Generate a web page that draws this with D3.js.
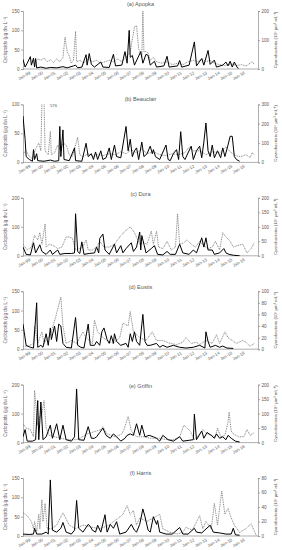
<!DOCTYPE html>
<html>
<head>
<meta charset="utf-8">
<script src="https://cdn.jsdelivr.net/npm/d3@7"></script>
<style>
  body { margin: 0; background: #fff; }
  text { font-family: "Liberation Sans", Arial, sans-serif; fill: #595959; }
</style>
</head>
<body>
<div id="chart"></div>
<script>
// x values are months since Jan 1999
const yearLabels = ["Jan-99", "Jan-00", "Jan-01", "Jan-02", "Jan-03", "Jan-04", "Jan-05", "Jan-06", "Jan-07",
  "Jan-08", "Jan-09", "Jan-10", "Jan-11", "Jan-12", "Jan-13", "Jan-14", "Jan-15", "Jan-16"];

const lakeTitles = ["(a) Apopka", "(b) Beauclair", "(c) Dora", "(d) Eustis", "(e) Griffin", "(f) Harris"];
const leftTicks = [[0, 50, 100, 150], [0, 50, 100], [0, 100, 200], [0, 50, 100, 150], [0, 100, 200], [0, 50, 100, 150]];
const rightTicks = [[0, 100, 200], [0, 100, 200, 300], [0, 50, 100, 150, 200], [0, 20, 40, 60, 80, 100], [0, 50, 100, 150, 200], [0, 20, 40, 60, 80]];

const apopkaCyclo = [[0,25],[2,5],[4,15],[7,32],[8,10],[10,28],[11,5],[12,27],[13,3],[17,5],[22,2],[26,4],[32,3],[38,6],[42,3],[48,8],[50,10],[52,3],[56,5],[60,37],[61,10],[63,40],[65,12],[68,5],[74,18],[76,5],[82,4],[86,38],[88,8],[94,10],[97,45],[99,15],[101,100],[102,30],[104,35],[106,10],[112,45],[114,15],[117,38],[119,35],[121,10],[125,20],[127,5],[134,8],[137,33],[139,5],[147,8],[149,22],[151,5],[158,10],[163,70],[165,8],[170,27],[172,10],[176,48],[178,12],[182,23],[184,5],[190,10],[193,18],[195,8],[197,20],[199,5],[201,18],[204,3],[205,2]];
const apopkaCyano = [[12,25],[14,35],[17,30],[20,38],[23,25],[26,32],[29,22],[32,35],[35,25],[38,40],[40,110],[42,60],[44,45],[46,20],[48,30],[50,130],[51,25],[54,30],[58,20],[62,35],[66,25],[70,30],[74,20],[78,25],[82,30],[86,25],[90,35],[94,25],[98,40],[102,60],[106,145],[108,150],[110,70],[113,40],[114,200],[115,60],[117,60],[119,55],[121,30],[124,40],[127,25],[132,20],[137,25],[142,15],[147,20],[152,15],[157,25],[162,30],[166,25],[170,35],[174,25],[178,30],[182,20],[187,15],[192,12],[198,18],[203,12],[208,15],[212,10],[216,20],[218,25],[220,15]];

const beauclairCyclo = [[0,80],[2,40],[3,10],[6,5],[9,2],[10,22],[11,5],[13,15],[14,3],[20,2],[26,4],[30,2],[34,3],[35,62],[36,10],[38,56],[39,5],[44,3],[49,25],[50,3],[56,2],[60,33],[62,10],[65,15],[67,5],[69,18],[71,5],[74,20],[76,5],[79,8],[82,25],[84,5],[87,30],[89,10],[93,8],[98,62],[100,20],[102,40],[104,10],[106,20],[108,25],[110,5],[113,35],[115,10],[118,15],[121,28],[123,15],[124,22],[126,10],[130,5],[136,30],[138,5],[140,3],[143,15],[146,22],[148,5],[150,53],[152,10],[154,5],[160,28],[162,5],[165,20],[168,28],[170,8],[172,35],[174,68],[176,20],[178,10],[180,30],[182,8],[185,20],[188,8],[190,25],[192,10],[195,30],[197,45],[199,45],[201,10],[203,5],[206,2]];
const beauclairCyano = [[0,45],[3,60],[6,30],[9,20],[12,70],[15,100],[17,60],[19,576],[21,60],[24,40],[26,160],[27,40],[30,50],[33,90],[36,60],[38,100],[41,90],[44,40],[47,30],[52,130],[54,40],[57,30],[62,45],[67,30],[71,40],[76,35],[82,45],[88,40],[93,55],[98,45],[103,65],[108,50],[113,70],[118,45],[124,55],[130,40],[136,35],[142,45],[148,40],[154,50],[158,80],[162,60],[168,60],[174,40],[180,55],[187,50],[193,80],[197,55],[202,35],[207,30],[212,40],[216,25],[218,50],[220,40]];

const doraCyclo = [[0,30],[3,5],[7,3],[10,45],[12,10],[16,38],[18,15],[22,5],[26,20],[28,5],[33,20],[35,5],[40,8],[46,8],[49,10],[50,145],[52,15],[54,8],[56,48],[58,5],[63,8],[68,10],[70,30],[72,10],[73,60],[76,75],[78,20],[82,5],[87,40],[89,10],[93,35],[95,10],[98,25],[103,45],[105,15],[108,30],[111,82],[112,20],[113,70],[115,40],[117,10],[122,25],[125,35],[128,5],[133,3],[137,15],[140,5],[145,5],[149,40],[152,10],[158,5],[162,20],[165,10],[167,30],[170,62],[172,30],[174,62],[176,20],[180,20],[182,5],[187,10],[191,25],[193,10],[196,5],[200,2],[206,0]];
const doraCyano = [[0,40],[4,20],[8,30],[11,70],[14,55],[16,80],[18,40],[21,110],[22,30],[25,40],[29,35],[33,25],[37,30],[41,65],[44,65],[47,60],[50,20],[54,25],[57,30],[60,55],[62,20],[66,20],[70,30],[73,50],[77,30],[82,30],[87,40],[92,65],[97,85],[102,100],[106,80],[111,40],[115,45],[118,40],[122,85],[124,40],[127,85],[129,30],[133,25],[137,50],[141,20],[145,30],[147,145],[149,40],[153,45],[156,55],[160,40],[164,30],[168,50],[172,35],[176,25],[180,30],[183,50],[187,20],[190,80],[193,65],[197,50],[200,30],[204,35],[209,40],[213,10],[217,25],[220,45]];

const eustisCyclo = [[0,65],[3,10],[7,5],[10,3],[13,120],[14,5],[17,10],[19,5],[22,40],[24,10],[26,55],[27,25],[30,60],[32,20],[34,65],[36,60],[38,15],[41,5],[46,3],[50,82],[52,10],[55,5],[58,3],[62,65],[64,10],[68,10],[70,20],[73,10],[75,45],[77,55],[80,25],[82,15],[84,35],[86,15],[87,40],[89,20],[93,10],[98,15],[100,5],[102,40],[104,20],[106,45],[108,20],[111,10],[114,90],[116,20],[118,10],[121,10],[127,15],[130,5],[133,10],[137,5],[143,10],[149,5],[155,3],[162,5],[168,10],[173,3],[174,45],[176,20],[178,5],[183,10],[187,5],[190,8],[194,3],[200,2]];
const eustisCyano = [[0,5],[5,5],[10,10],[11,40],[14,10],[18,30],[20,10],[26,25],[31,55],[36,90],[38,40],[41,10],[46,15],[51,10],[57,30],[60,20],[66,10],[68,50],[71,30],[76,20],[80,15],[86,10],[92,20],[95,45],[100,40],[102,65],[105,30],[111,20],[117,15],[123,30],[127,15],[133,15],[140,10],[146,8],[152,12],[155,20],[160,10],[165,12],[168,8],[174,15],[180,10],[184,25],[187,10],[192,30],[195,20],[199,15],[203,10],[209,15],[212,12],[216,5],[220,10]];

const griffinCyclo = [[0,20],[2,45],[4,5],[9,5],[12,10],[14,145],[15,10],[17,140],[19,10],[22,20],[26,60],[28,15],[32,65],[35,10],[38,60],[41,10],[46,5],[49,20],[51,185],[53,10],[58,8],[62,55],[65,15],[68,15],[70,20],[73,35],[76,50],[79,25],[83,15],[86,30],[89,20],[93,5],[97,15],[99,25],[102,30],[105,25],[108,65],[111,25],[113,60],[116,20],[120,25],[124,20],[127,15],[130,5],[133,25],[138,10],[143,5],[149,20],[152,5],[158,8],[162,10],[163,98],[165,10],[170,40],[172,15],[175,35],[179,25],[182,15],[184,30],[187,15],[190,20],[193,10],[195,25],[198,15],[202,5],[206,2]];
const griffinCyano = [[0,65],[3,50],[7,45],[10,20],[11,180],[14,60],[16,90],[18,100],[20,145],[22,50],[25,25],[30,20],[36,15],[42,10],[50,10],[54,15],[61,30],[70,40],[74,45],[76,55],[80,30],[88,20],[94,30],[96,45],[100,90],[103,40],[108,20],[115,20],[121,15],[130,15],[137,10],[143,10],[149,20],[153,60],[156,50],[159,40],[163,10],[168,30],[171,45],[175,30],[180,25],[183,20],[185,50],[188,20],[192,25],[195,70],[196,105],[198,40],[200,30],[205,20],[210,20],[213,45],[216,25],[220,35]];

const harrisCyclo = [[0,5],[6,4],[10,5],[11,20],[13,5],[18,5],[22,10],[24,5],[26,145],[28,15],[32,10],[36,20],[38,35],[41,10],[46,5],[49,15],[51,92],[53,20],[57,10],[62,30],[64,25],[66,15],[69,10],[71,28],[74,10],[78,55],[80,10],[83,30],[86,20],[89,37],[92,5],[98,10],[103,30],[106,15],[108,10],[111,30],[114,70],[116,50],[119,15],[121,10],[124,50],[127,30],[128,40],[130,10],[136,5],[142,5],[149,22],[152,5],[157,5],[163,20],[165,10],[170,8],[178,28],[181,10],[187,8],[193,5],[198,5],[200,20],[202,3],[206,2]];
const harrisCyano = [[0,32],[4,28],[8,20],[10,10],[11,20],[13,5],[15,30],[16,10],[18,50],[19,20],[21,45],[23,10],[27,10],[32,15],[38,32],[44,15],[50,10],[57,15],[66,12],[73,10],[82,15],[86,20],[91,25],[95,30],[99,42],[102,30],[105,35],[108,15],[111,25],[118,20],[124,25],[130,30],[133,10],[140,5],[147,3],[152,5],[155,12],[161,8],[168,28],[171,10],[174,20],[179,10],[182,45],[185,15],[189,62],[192,30],[195,38],[198,25],[201,15],[206,5],[212,10],[217,17],[222,0]];

const cycloSeries = [apopkaCyclo, beauclairCyclo, doraCyclo, eustisCyclo, griffinCyclo, harrisCyclo];
const cyanoSeries = [apopkaCyano, beauclairCyano, doraCyano, eustisCyano, griffinCyano, harrisCyano];

const width = 282, height = 550;
const left = 23, right = 258, plotH = 58, top0 = 11, step = 93.4;
const titleDy = [-6, -5, -3, -4, 2, -4];
const axisColor = "#8c8c8c";

const svg = d3.select("#chart")
  .append("svg")
  .attr("width", width)
  .attr("height", height);

const x = d3.scaleLinear().domain([0, 223.5]).range([left, right]);

lakeTitles.forEach((title, i) => {
  const g = svg.append("g")
    .attr("transform", `translate(0,${top0 + i * step})`);

  const yL = d3.scaleLinear().domain([0, d3.max(leftTicks[i])]).range([plotH, 0]);
  const yR = d3.scaleLinear().domain([0, d3.max(rightTicks[i])]).range([plotH, 0]);

  g.append("clipPath")
    .attr("id", `clip${i}`)
    .append("rect")
    .attr("x", left)
    .attr("y", -0.5)
    .attr("width", right - left)
    .attr("height", plotH + 1);

  const axL = g.append("g")
    .attr("transform", `translate(${left},0)`)
    .call(d3.axisLeft(yL).tickValues(leftTicks[i]).tickSize(2).tickPadding(1.5));
  const axR = g.append("g")
    .attr("transform", `translate(${right},0)`)
    .call(d3.axisRight(yR).tickValues(rightTicks[i]).tickSize(2).tickPadding(1.5));

  [axL, axR].forEach(ax => {
    ax.select(".domain").attr("stroke", axisColor).attr("stroke-width", 0.7);
    ax.selectAll(".tick line").attr("stroke", axisColor).attr("stroke-width", 0.7);
    ax.selectAll(".tick text").attr("font-size", "4.6px").attr("fill", "#595959")
      .attr("font-family", "Liberation Sans, Arial, sans-serif");
  });

  g.append("line")
    .attr("x1", left)
    .attr("x2", right)
    .attr("y1", plotH)
    .attr("y2", plotH)
    .attr("stroke", axisColor)
    .attr("stroke-width", 0.7);

  g.selectAll(".xlab")
    .data(yearLabels)
    .join("text")
    .attr("class", "xlab")
    .attr("transform", (d, k) => `translate(${x(k * 12) + 2},${plotH + 8}) rotate(-30)`)
    .attr("text-anchor", "middle")
    .attr("font-size", "4.3px")
    .text(d => d);

  const plot = g.append("g").attr("clip-path", `url(#clip${i})`);

  plot.append("path")
    .datum(cyanoSeries[i])
    .attr("fill", "none")
    .attr("stroke", "#7a7a7a")
    .attr("stroke-width", 0.9)
    .attr("stroke-dasharray", "1,0.8")
    .attr("d", d3.line().x(d => x(d[0])).y(d => yR(d[1])));

  plot.append("path")
    .datum(cycloSeries[i])
    .attr("fill", "none")
    .attr("stroke", "#000")
    .attr("stroke-width", 1)
    .attr("stroke-linejoin", "round")
    .attr("d", d3.line().x(d => x(d[0])).y(d => yL(d[1])));

  g.append("text")
    .attr("x", (left + right) / 2)
    .attr("y", titleDy[i])
    .attr("text-anchor", "middle")
    .attr("dominant-baseline", "middle")
    .attr("font-size", "5.6px")
    .text(title);

  g.append("text")
    .attr("transform", `translate(7,${plotH / 2}) rotate(-90)`)
    .attr("text-anchor", "middle")
    .attr("font-size", "4.6px")
    .text("Cyclopoids (μg dw L⁻¹)");

  g.append("text")
    .attr("transform", `translate(277,${plotH / 2}) rotate(-90)`)
    .attr("text-anchor", "middle")
    .attr("font-size", "4.3px")
    .text("Cyanobacteria (10⁶ μm³ mL⁻¹)");

  if (i === 1) {
    g.append("text")
      .attr("x", x(19) + 7)
      .attr("y", 3)
      .attr("font-size", "4.3px")
      .text("576");
  }
});
</script>
</body>
</html>
